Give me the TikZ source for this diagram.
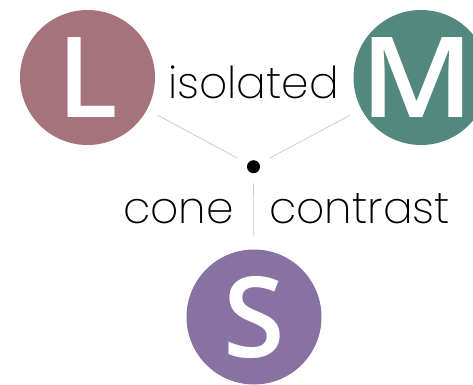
\documentclass[tikz,border=0pt]{standalone}
\usepackage{fontspec}
\newfontfamily\labelfont{Poppins}[UprightFont=* ExtraLight]
\newfontfamily\letterfont{Open Sans}[UprightFont=* Semibold]
\definecolor{lcone}{HTML}{A6727C}
\definecolor{mcone}{HTML}{52887E}
\definecolor{scone}{HTML}{8772A1}
\definecolor{wire}{HTML}{C8C8C8}
\tikzset{
  cone/.style={circle, minimum size=135pt, inner sep=0pt, text=white,
    font=\letterfont\fontsize{112}{112}\selectfont},
  hub/.style={circle, fill=black, minimum size=13pt, inner sep=0pt},
  wireline/.style={draw=wire, line width=0.7pt},
  lbl/.style={font=\labelfont\fontsize{44}{44}\selectfont, anchor=base, inner sep=0pt}
}
\begin{document}
\begin{tikzpicture}[x=1pt, y=1pt]
  \useasboundingbox (0,0) rectangle (473,384);
  \clip (0,0) rectangle (473,384);
  \node[cone, fill=lcone] (L) at (87.5,306.5) {L};
  \node[cone, fill=mcone] (M) at (421,306.5) {};
  \node[text=white, font=\letterfont\fontsize{112}{112}\selectfont, inner sep=0pt]
    (Mletter) at (417,306.5) {\scalebox{1.1}[1]{M}};
  \node[cone, fill=scone] (S) at (254,67) {S};
  \node[hub] (hub) at (253.5,217.3) {};
  \draw[wireline, shorten <=11.5pt, shorten >=12pt] (hub) -- (L);
  \draw[wireline, shorten <=11.5pt, shorten >=12.5pt] (hub) -- (M);
  \draw[wireline, shorten <=10pt, shorten >=13pt] (hub) -- (S);
  \node[lbl] (iso) at (253.5,286) {isolated};
  \node[lbl] (cone) at (178.5,161) {cone};
  \node[lbl] (contrast) at (359.5,161) {contrast};
\end{tikzpicture}
\end{document}
